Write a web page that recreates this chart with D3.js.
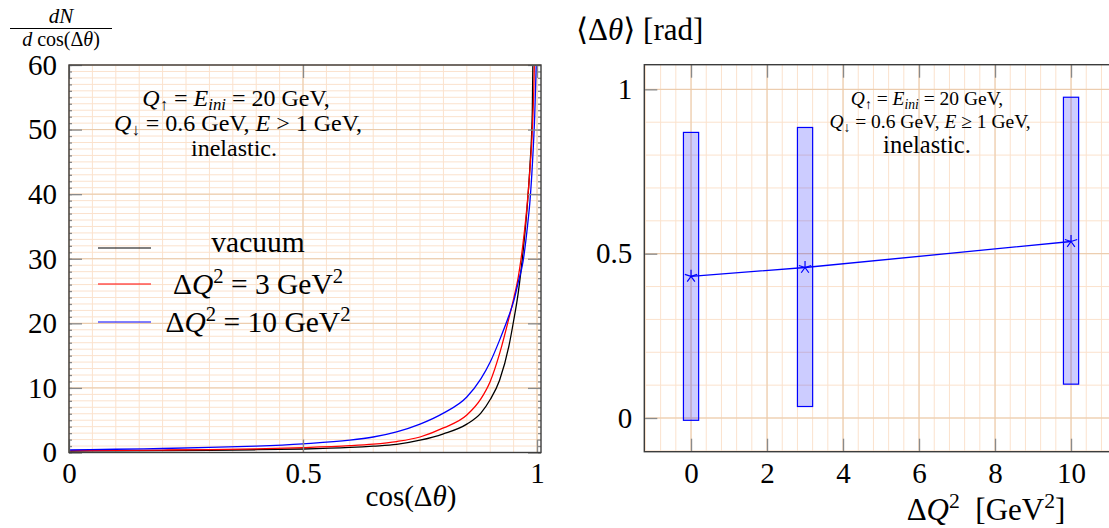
<!DOCTYPE html>
<html>
<head>
<meta charset="utf-8">
<script src="https://cdn.jsdelivr.net/npm/d3@7"></script>
<style>
  body { margin: 0; background: #fff; }
  svg { display: block; }
  text { white-space: pre; fill: #000; font-family: "Liberation Serif", "DejaVu Serif", "Noto Serif", "Tinos", "Times New Roman", "FreeSerif", serif; }
</style>
</head>
<body>
<svg id="fig" width="1109" height="528"></svg>
<script>

// ---- left panel: dN/dcos(dtheta) vs cos(dtheta)
var cosTheta = [0, 0.1, 0.2, 0.3, 0.4, 0.5, 0.6, 0.65, 0.7, 0.75, 0.8, 0.85, 0.88, 0.9, 0.92, 0.94, 0.95, 0.96, 0.97, 0.98, 0.985, 0.99, 0.995, 1.0];
var vacuumVals = [0.23, 0.26, 0.3, 0.35, 0.43, 0.54, 0.78, 0.98, 1.25, 1.9, 2.9, 4.4, 6.1, 8.2, 11.2, 16.5, 20.4, 24.8, 31, 39, 44.5, 53, 85, 130];
var dq3Vals    = [0.29, 0.33, 0.38, 0.45, 0.57, 0.75, 1.05, 1.3, 1.7, 2.4, 3.8, 5.8, 8.3, 11.0, 15.3, 20.8, 23.8, 27.2, 32.3, 39.3, 44, 50, 63, 100];
var dq10Vals   = [0.39, 0.5, 0.62, 0.78, 1.0, 1.35, 1.9, 2.4, 3.2, 4.4, 6.1, 8.6, 11.4, 14.0, 17.4, 21.2, 23.4, 26.4, 29.5, 35.3, 39, 44.5, 52, 64];
var leftXTicks = [0, 0.5, 1];
var leftYTicks = [0, 10, 20, 30, 40, 50, 60];

// ---- right panel: <dtheta> vs dQ^2 with spread band
var dQ2 = [0, 3, 10];
var meanTheta = [0.431, 0.458, 0.537];
var bandLow  = [-0.007, 0.035, 0.103];
var bandHigh = [0.869, 0.884, 0.976];
var rightXTicks = [0, 2, 4, 6, 8, 10];
var rightYTicks = [0, 0.5, 1];

var svg = d3.select("#fig");

var majorGrid = "#e9c9a8";
var minorGrid = "#fbe2cd";
var tickCol = "#8a8a8a";

// rich text helper: parts = [[string, flags]] flags: i italic, b sub, p sup
function richText(g, x, y, size, anchor, parts) {
  var t = g.append("text")
    .attr("x", x).attr("y", y)
    .attr("font-size", size)
    .attr("text-anchor", anchor);
  var shift = 0;
  parts.forEach(function(p) {
    var s = p[0], f = p[1] || "";
    var target = 0, fs = size;
    if (f.indexOf("b") >= 0) { target = size * 0.18; fs = size * 0.7; }
    if (f.indexOf("p") >= 0) { target = -size * 0.38; fs = size * 0.7; }
    var ts = t.append("tspan").text(s).attr("font-size", fs);
    if (target - shift != 0) ts.attr("dy", target - shift);
    shift = target;
    if (f.indexOf("i") >= 0) ts.attr("font-style", "italic");
  });
  return t;
}

function grid(g, x, y, xs, ys, color, w) {
  g.selectAll(null).data(xs).enter().append("line")
    .attr("x1", function(d) { return x(d); }).attr("x2", function(d) { return x(d); })
    .attr("y1", y.range()[0]).attr("y2", y.range()[1])
    .attr("stroke", color).attr("stroke-width", w);
  g.selectAll(null).data(ys).enter().append("line")
    .attr("y1", function(d) { return y(d); }).attr("y2", function(d) { return y(d); })
    .attr("x1", x.range()[0]).attr("x2", x.range()[1])
    .attr("stroke", color).attr("stroke-width", w);
}

function styleAxis(sel, size) {
  sel.attr("font-family", null);
  sel.select(".domain").remove();
  sel.selectAll(".tick line").attr("stroke", tickCol).attr("stroke-width", 1.3);
  sel.selectAll(".tick text").attr("font-size", size).attr("fill", "#000");
}

function frameTicks(g, x, y, xt, yt, yMinor) {
  var x0 = x.range()[0], x1 = x.range()[1], y0 = y.range()[0], y1 = y.range()[1];
  var fmt = function() { return ""; };
  g.append("g").attr("transform", "translate(0," + y1 + ")")
    .call(d3.axisTop(x).tickValues(xt).tickSize(-13).tickFormat(fmt)).call(styleAxis, 0);
  g.append("g").attr("transform", "translate(" + x1 + ",0)")
    .call(d3.axisRight(y).tickValues(yt).tickSize(-13).tickFormat(fmt)).call(styleAxis, 0);
  if (yMinor) {
    g.append("g").attr("transform", "translate(" + x0 + ",0)")
      .call(d3.axisLeft(y).tickValues(yMinor).tickSize(-3).tickFormat(fmt)).call(styleAxis, 0);
    g.append("g").attr("transform", "translate(" + x1 + ",0)")
      .call(d3.axisRight(y).tickValues(yMinor).tickSize(-3).tickFormat(fmt)).call(styleAxis, 0);
  }
  g.append("rect").attr("x", x0).attr("y", y1).attr("width", x1 - x0).attr("height", y0 - y1)
    .attr("fill", "none").attr("stroke", "#3c3c3c").attr("stroke-width", 1.4);
}

// ================= LEFT PANEL =================
var xL = d3.scaleLinear().domain([0, 1.0085]).range([69, 541]);
var yL = d3.scaleLinear().domain([0, 60]).range([452.5, 65]);
var gL = svg.append("g");

grid(gL, xL, yL, d3.range(0, 1.001, 0.05), d3.range(0, 60.1, 1), minorGrid, 1);
grid(gL, xL, yL, leftXTicks, leftYTicks, majorGrid, 1);

svg.append("clipPath").attr("id", "clipL").append("rect")
  .attr("x", 69).attr("y", 65).attr("width", 472).attr("height", 387.5);

var lineL = d3.line()
  .x(function(d) { return xL(d[0]); })
  .y(function(d) { return yL(d[1]); })
  .curve(d3.curveMonotoneX);

var seriesL = [
  { name: "vacuum", vals: vacuumVals, color: "#000000" },
  { name: "dq3", vals: dq3Vals, color: "#ff0000" },
  { name: "dq10", vals: dq10Vals, color: "#0000ff" }
];
var curves = gL.append("g").attr("clip-path", "url(#clipL)");
seriesL.forEach(function(s) {
  curves.append("path")
    .datum(cosTheta.map(function(c, i) { return [c, s.vals[i]]; }))
    .attr("d", lineL)
    .attr("fill", "none")
    .attr("stroke", s.color)
    .attr("stroke-width", 1.3);
});

gL.append("g").attr("transform", "translate(0," + yL.range()[0] + ")")
  .call(d3.axisBottom(xL).tickValues(leftXTicks).tickSize(-13).tickPadding(10).tickFormat(d3.format("")))
  .call(styleAxis, 29);
gL.append("g").attr("transform", "translate(" + xL.range()[0] + ",0)")
  .call(d3.axisLeft(yL).tickValues(leftYTicks).tickSize(-13).tickPadding(12))
  .call(styleAxis, 29);
frameTicks(gL, xL, yL, leftXTicks, leftYTicks, d3.range(0, 60.1, 1));

// legend
var legendY = [248, 284, 322];
seriesL.forEach(function(s, i) {
  gL.append("line").attr("x1", 98).attr("x2", 151)
    .attr("y1", legendY[i]).attr("y2", legendY[i])
    .attr("stroke", s.color).attr("stroke-width", 1.2);
});
richText(gL, 258, legendY[0] + 4, 29.5, "middle", [["vacuum"]]);
richText(gL, 258, legendY[1] + 10, 29.5, "middle", [["Δ"], ["Q", "i"], ["2", "p"], [" = 3 GeV"], ["2", "p"]]);
richText(gL, 258, legendY[2] + 10, 29.5, "middle", [["Δ"], ["Q", "i"], ["2", "p"], [" = 10 GeV"], ["2", "p"]]);

// annotation
richText(gL, 236, 106, 24, "middle", [["Q", "i"], ["↑", "b"], [" = "], ["E", "i"], ["ini", "ib"], [" = 20 GeV,"]]);
richText(gL, 238, 131, 24, "middle", [["Q", "i"], ["↓", "b"], [" = 0.6 GeV, "], ["E", "i"], [" > 1 GeV,"]]);
richText(gL, 234, 156, 24, "middle", [["inelastic."]]);

// axis labels
richText(gL, 61, 23, 21, "middle", [["dN", "i"]]);
gL.append("line").attr("x1", 10).attr("x2", 112).attr("y1", 28.5).attr("y2", 28.5)
  .attr("stroke", "#000").attr("stroke-width", 1);
richText(gL, 61, 46, 20, "middle", [["d", "i"], [" cos(Δ"], ["θ", "i"], [")"]]);
richText(gL, 411, 506, 29, "middle", [["cos(Δ"], ["θ", "i"], [")"]]);

// ================= RIGHT PANEL =================
var xR = d3.scaleLinear().domain([-1.23, 11.5]).range([644.3, 644.3 + 12.73 * 38]);
var yR = d3.scaleLinear().domain([-0.1025, 1.075]).range([451.7, 64.7]);
var gR = svg.append("g");

grid(gR, xR, yR, d3.range(-1.2, 11.5, 0.4), d3.range(-0.1, 1.07, 0.1), minorGrid, 1);
grid(gR, xR, yR, rightXTicks, rightYTicks, majorGrid, 1);

// spread bars
gR.selectAll(".band").data(dQ2).enter().append("rect")
  .attr("class", "band")
  .attr("x", function(d) { return xR(d - 0.2); })
  .attr("width", function(d) { return xR(d + 0.2) - xR(d - 0.2); })
  .attr("y", function(d, i) { return yR(bandHigh[i]); })
  .attr("height", function(d, i) { return yR(bandLow[i]) - yR(bandHigh[i]); })
  .attr("fill", "rgba(0,0,255,0.2)")
  .attr("stroke", "#0000ff")
  .attr("stroke-width", 1.2);

var lineR = d3.line()
  .x(function(d) { return xR(d[0]); })
  .y(function(d) { return yR(d[1]); });
gR.append("path")
  .datum(dQ2.map(function(q, i) { return [q, meanTheta[i]]; }))
  .attr("d", lineR)
  .attr("fill", "none").attr("stroke", "#0000ff").attr("stroke-width", 1.3);

// star marks
var starPath = function(r) {
  var p = "";
  for (var k = 0; k < 5; k++) {
    var a = (90 + 72 * k) * Math.PI / 180;
    p += "M0,0L" + (r * Math.cos(a)).toFixed(2) + "," + (-r * Math.sin(a)).toFixed(2);
  }
  return p;
};
gR.selectAll(".mark").data(dQ2).enter().append("path")
  .attr("class", "mark")
  .attr("transform", function(d, i) { return "translate(" + xR(d) + "," + yR(meanTheta[i]) + ")"; })
  .attr("d", starPath(6.5))
  .attr("fill", "none").attr("stroke", "#0000ff").attr("stroke-width", 1.2);

gR.append("g").attr("transform", "translate(0," + yR.range()[0] + ")")
  .call(d3.axisBottom(xR).tickValues(rightXTicks).tickSize(-13).tickPadding(11).tickFormat(d3.format("")))
  .call(styleAxis, 29);
gR.append("g").attr("transform", "translate(" + xR.range()[0] + ",0)")
  .call(d3.axisLeft(yR).tickValues(rightYTicks).tickSize(-13).tickPadding(12).tickFormat(d3.format("")))
  .call(styleAxis, 29);
frameTicks(gR, xR, yR, rightXTicks, rightYTicks, null);

// annotation
richText(gR, 927, 105, 19.5, "middle", [["Q", "i"], ["↑", "b"], [" = "], ["E", "i"], ["ini", "ib"], [" = 20 GeV,"]]);
richText(gR, 930, 128, 19.5, "middle", [["Q", "i"], ["↓", "b"], [" = 0.6 GeV, "], ["E", "i"], [" ≥ 1 GeV,"]]);
richText(gR, 927, 153, 24.5, "middle", [["inelastic."]]);

// axis labels
richText(gR, 576, 40, 31, "start", [["⟨Δ"], ["θ", "i"], ["⟩ [rad]"]]);
richText(gR, 986, 520, 31, "middle", [["Δ"], ["Q", "i"], ["2", "p"], ["  [GeV"], ["2", "p"], ["]"]]);

</script>
</body>
</html>
